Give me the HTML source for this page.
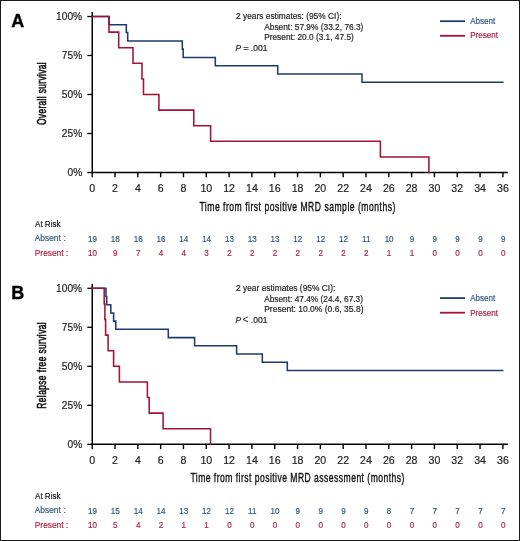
<!DOCTYPE html>
<html><head><meta charset="utf-8"><style>
html,body{margin:0;padding:0;background:#fff;}
body{width:520px;height:541px;overflow:hidden;}
svg{display:block;font-family:"Liberation Sans", sans-serif;will-change:transform;}
.sb{stroke:#33557f;stroke-width:0.18;}
.sr{stroke:#ad2245;stroke-width:0.18;}
.sk{stroke:#222;stroke-width:0.18;}
</style></head><body>
<svg width="520" height="541" viewBox="0 0 520 541">
<rect x="0" y="0" width="520" height="541" fill="#fff"/>
<rect x="0.5" y="0.5" width="519" height="540" fill="none" stroke="#1a1a1a" stroke-width="1"/>
<text x="11.3" y="26.9" font-size="18" font-weight="bold" fill="#000" stroke="#000" stroke-width="0.35">A</text>
<line x1="92.25" y1="12.00" x2="92.25" y2="173.35" stroke="#000" stroke-width="1.5"/>
<line x1="91.45" y1="172.50" x2="507.8" y2="172.50" stroke="#000" stroke-width="1.55"/>
<line x1="87.3" y1="16.50" x2="92.25" y2="16.50" stroke="#000" stroke-width="1.3"/>
<text transform="translate(82.2,20.10) scale(1.02,1)" text-anchor="end" font-size="10.0" fill="#222" class="sk">100%</text>
<line x1="87.3" y1="55.50" x2="92.25" y2="55.50" stroke="#000" stroke-width="1.3"/>
<text transform="translate(82.2,59.10) scale(1.02,1)" text-anchor="end" font-size="10.0" fill="#222" class="sk">75%</text>
<line x1="87.3" y1="94.50" x2="92.25" y2="94.50" stroke="#000" stroke-width="1.3"/>
<text transform="translate(82.2,98.10) scale(1.02,1)" text-anchor="end" font-size="10.0" fill="#222" class="sk">50%</text>
<line x1="87.3" y1="133.50" x2="92.25" y2="133.50" stroke="#000" stroke-width="1.3"/>
<text transform="translate(82.2,137.10) scale(1.02,1)" text-anchor="end" font-size="10.0" fill="#222" class="sk">25%</text>
<line x1="87.3" y1="172.50" x2="92.25" y2="172.50" stroke="#000" stroke-width="1.3"/>
<text transform="translate(82.2,176.10) scale(1.02,1)" text-anchor="end" font-size="10.0" fill="#222" class="sk">0%</text>
<line x1="92.20" y1="172.50" x2="92.20" y2="177.30" stroke="#000" stroke-width="1.4"/>
<text transform="translate(92.20,191.70) scale(1.04,1)" text-anchor="middle" font-size="10.2" fill="#222" class="sk">0</text>
<line x1="115.02" y1="172.50" x2="115.02" y2="177.30" stroke="#000" stroke-width="1.4"/>
<text transform="translate(115.02,191.70) scale(1.04,1)" text-anchor="middle" font-size="10.2" fill="#222" class="sk">2</text>
<line x1="137.83" y1="172.50" x2="137.83" y2="177.30" stroke="#000" stroke-width="1.4"/>
<text transform="translate(137.83,191.70) scale(1.04,1)" text-anchor="middle" font-size="10.2" fill="#222" class="sk">4</text>
<line x1="160.65" y1="172.50" x2="160.65" y2="177.30" stroke="#000" stroke-width="1.4"/>
<text transform="translate(160.65,191.70) scale(1.04,1)" text-anchor="middle" font-size="10.2" fill="#222" class="sk">6</text>
<line x1="183.46" y1="172.50" x2="183.46" y2="177.30" stroke="#000" stroke-width="1.4"/>
<text transform="translate(183.46,191.70) scale(1.04,1)" text-anchor="middle" font-size="10.2" fill="#222" class="sk">8</text>
<line x1="206.28" y1="172.50" x2="206.28" y2="177.30" stroke="#000" stroke-width="1.4"/>
<text transform="translate(206.28,191.70) scale(1.04,1)" text-anchor="middle" font-size="10.2" fill="#222" class="sk">10</text>
<line x1="229.10" y1="172.50" x2="229.10" y2="177.30" stroke="#000" stroke-width="1.4"/>
<text transform="translate(229.10,191.70) scale(1.04,1)" text-anchor="middle" font-size="10.2" fill="#222" class="sk">12</text>
<line x1="251.91" y1="172.50" x2="251.91" y2="177.30" stroke="#000" stroke-width="1.4"/>
<text transform="translate(251.91,191.70) scale(1.04,1)" text-anchor="middle" font-size="10.2" fill="#222" class="sk">14</text>
<line x1="274.73" y1="172.50" x2="274.73" y2="177.30" stroke="#000" stroke-width="1.4"/>
<text transform="translate(274.73,191.70) scale(1.04,1)" text-anchor="middle" font-size="10.2" fill="#222" class="sk">16</text>
<line x1="297.54" y1="172.50" x2="297.54" y2="177.30" stroke="#000" stroke-width="1.4"/>
<text transform="translate(297.54,191.70) scale(1.04,1)" text-anchor="middle" font-size="10.2" fill="#222" class="sk">18</text>
<line x1="320.36" y1="172.50" x2="320.36" y2="177.30" stroke="#000" stroke-width="1.4"/>
<text transform="translate(320.36,191.70) scale(1.04,1)" text-anchor="middle" font-size="10.2" fill="#222" class="sk">20</text>
<line x1="343.18" y1="172.50" x2="343.18" y2="177.30" stroke="#000" stroke-width="1.4"/>
<text transform="translate(343.18,191.70) scale(1.04,1)" text-anchor="middle" font-size="10.2" fill="#222" class="sk">22</text>
<line x1="365.99" y1="172.50" x2="365.99" y2="177.30" stroke="#000" stroke-width="1.4"/>
<text transform="translate(365.99,191.70) scale(1.04,1)" text-anchor="middle" font-size="10.2" fill="#222" class="sk">24</text>
<line x1="388.81" y1="172.50" x2="388.81" y2="177.30" stroke="#000" stroke-width="1.4"/>
<text transform="translate(388.81,191.70) scale(1.04,1)" text-anchor="middle" font-size="10.2" fill="#222" class="sk">26</text>
<line x1="411.62" y1="172.50" x2="411.62" y2="177.30" stroke="#000" stroke-width="1.4"/>
<text transform="translate(411.62,191.70) scale(1.04,1)" text-anchor="middle" font-size="10.2" fill="#222" class="sk">28</text>
<line x1="434.44" y1="172.50" x2="434.44" y2="177.30" stroke="#000" stroke-width="1.4"/>
<text transform="translate(434.44,191.70) scale(1.04,1)" text-anchor="middle" font-size="10.2" fill="#222" class="sk">30</text>
<line x1="457.26" y1="172.50" x2="457.26" y2="177.30" stroke="#000" stroke-width="1.4"/>
<text transform="translate(457.26,191.70) scale(1.04,1)" text-anchor="middle" font-size="10.2" fill="#222" class="sk">32</text>
<line x1="480.07" y1="172.50" x2="480.07" y2="177.30" stroke="#000" stroke-width="1.4"/>
<text transform="translate(480.07,191.70) scale(1.04,1)" text-anchor="middle" font-size="10.2" fill="#222" class="sk">34</text>
<line x1="502.89" y1="172.50" x2="502.89" y2="177.30" stroke="#000" stroke-width="1.4"/>
<text transform="translate(502.89,191.70) scale(1.04,1)" text-anchor="middle" font-size="10.2" fill="#222" class="sk">36</text>
<text transform="translate(297.4,210.60) scale(0.63,1)" text-anchor="middle" font-size="13.6" fill="#111" stroke="#111" stroke-width="0.4" textLength="311.11" lengthAdjust="spacing">Time from first positive MRD sample (months)</text>
<text transform="translate(46,93.70) rotate(-90) scale(0.66,1)" x="0" y="0" text-anchor="middle" font-size="12.7" fill="#111" stroke="#111" stroke-width="0.6" textLength="95.00" lengthAdjust="spacing">Overall survival</text>
<text x="236" y="19.45" font-size="8.4" fill="#222" class="sk" textLength="105.5" lengthAdjust="spacingAndGlyphs">2 years estimates: (95% CI):</text>
<text x="264.2" y="29.60" font-size="8.4" fill="#222" class="sk" textLength="99.2" lengthAdjust="spacingAndGlyphs">Absent: 57.9% (33.2, 76.3)</text>
<text x="264.2" y="39.50" font-size="8.4" fill="#222" class="sk" textLength="89.6" lengthAdjust="spacingAndGlyphs">Present: 20.0 (3.1, 47.5)</text>
<text x="235.6" y="50.80" font-size="8.4" font-style="italic" fill="#222" class="sk">P</text>
<text x="243.40" y="50.80" font-size="8.4" fill="#222" stroke="#222" stroke-width="0.35" textLength="5.2" lengthAdjust="spacingAndGlyphs">=</text>
<text x="250.8" y="50.80" font-size="8.4" fill="#222" class="sk" textLength="16.6" lengthAdjust="spacingAndGlyphs">.001</text>
<line x1="440" y1="21.20" x2="465" y2="21.20" stroke="#1f3a72" stroke-width="1.8"/>
<line x1="440" y1="35.80" x2="465" y2="35.80" stroke="#a51237" stroke-width="1.8"/>
<text transform="translate(470.2,23.80) scale(0.94,1)" font-size="8.6" fill="#33557f" class="sb">Absent</text>
<text transform="translate(470.2,38.40) scale(0.94,1)" font-size="8.6" fill="#ad2245" class="sr">Present</text>
<path d="M92.2 16.5 H109.0 V24.7 H126.3 V32.5 H127.7 V40.9 H182.3 V49.1 H183.2 V57.5 H215.3 V65.7 H277.7 V73.9 H362.0 V82.3 H502.7" fill="none" stroke="#1f3a72" stroke-width="1.55" stroke-linejoin="miter" stroke-linecap="square"/>
<path d="M92.2 16.5 H109.0 V32.1 H118.7 V47.7 H133.0 V63.3 H142.0 V78.9 H143.5 V94.5 H158.9 V110.1 H193.8 V125.7 H210.6 V141.3 H380.4 V156.9 H428.9 V172.5" fill="none" stroke="#a51237" stroke-width="1.55" stroke-linejoin="miter" stroke-linecap="square"/>
<text transform="translate(35,226.80) scale(0.93,1)" font-size="8.7" fill="#111" class="sk">At Risk</text>
<text transform="translate(34.8,241.40) scale(0.96,1)" font-size="8.7" fill="#33557f" class="sb">Absent</text>
<text x="63.5" y="241.40" font-size="8.7" fill="#33557f" class="sb">:</text>
<text transform="translate(34.8,255.70) scale(0.96,1)" font-size="8.7" fill="#ad2245" class="sr">Present</text>
<text x="65.8" y="255.70" font-size="8.7" fill="#ad2245" class="sr">:</text>
<text transform="translate(92.50,241.50) scale(0.93,1)" text-anchor="middle" font-size="8.7" fill="#33557f" class="sb">19</text>
<text transform="translate(92.50,255.70) scale(0.93,1)" text-anchor="middle" font-size="8.7" fill="#ad2245" class="sr">10</text>
<text transform="translate(115.32,241.50) scale(0.93,1)" text-anchor="middle" font-size="8.7" fill="#33557f" class="sb">18</text>
<text transform="translate(115.32,255.70) scale(0.93,1)" text-anchor="middle" font-size="8.7" fill="#ad2245" class="sr">9</text>
<text transform="translate(138.13,241.50) scale(0.93,1)" text-anchor="middle" font-size="8.7" fill="#33557f" class="sb">16</text>
<text transform="translate(138.13,255.70) scale(0.93,1)" text-anchor="middle" font-size="8.7" fill="#ad2245" class="sr">7</text>
<text transform="translate(160.95,241.50) scale(0.93,1)" text-anchor="middle" font-size="8.7" fill="#33557f" class="sb">16</text>
<text transform="translate(160.95,255.70) scale(0.93,1)" text-anchor="middle" font-size="8.7" fill="#ad2245" class="sr">4</text>
<text transform="translate(183.76,241.50) scale(0.93,1)" text-anchor="middle" font-size="8.7" fill="#33557f" class="sb">14</text>
<text transform="translate(183.76,255.70) scale(0.93,1)" text-anchor="middle" font-size="8.7" fill="#ad2245" class="sr">4</text>
<text transform="translate(206.58,241.50) scale(0.93,1)" text-anchor="middle" font-size="8.7" fill="#33557f" class="sb">14</text>
<text transform="translate(206.58,255.70) scale(0.93,1)" text-anchor="middle" font-size="8.7" fill="#ad2245" class="sr">3</text>
<text transform="translate(229.40,241.50) scale(0.93,1)" text-anchor="middle" font-size="8.7" fill="#33557f" class="sb">13</text>
<text transform="translate(229.40,255.70) scale(0.93,1)" text-anchor="middle" font-size="8.7" fill="#ad2245" class="sr">2</text>
<text transform="translate(252.21,241.50) scale(0.93,1)" text-anchor="middle" font-size="8.7" fill="#33557f" class="sb">13</text>
<text transform="translate(252.21,255.70) scale(0.93,1)" text-anchor="middle" font-size="8.7" fill="#ad2245" class="sr">2</text>
<text transform="translate(275.03,241.50) scale(0.93,1)" text-anchor="middle" font-size="8.7" fill="#33557f" class="sb">13</text>
<text transform="translate(275.03,255.70) scale(0.93,1)" text-anchor="middle" font-size="8.7" fill="#ad2245" class="sr">2</text>
<text transform="translate(297.84,241.50) scale(0.93,1)" text-anchor="middle" font-size="8.7" fill="#33557f" class="sb">12</text>
<text transform="translate(297.84,255.70) scale(0.93,1)" text-anchor="middle" font-size="8.7" fill="#ad2245" class="sr">2</text>
<text transform="translate(320.66,241.50) scale(0.93,1)" text-anchor="middle" font-size="8.7" fill="#33557f" class="sb">12</text>
<text transform="translate(320.66,255.70) scale(0.93,1)" text-anchor="middle" font-size="8.7" fill="#ad2245" class="sr">2</text>
<text transform="translate(343.48,241.50) scale(0.93,1)" text-anchor="middle" font-size="8.7" fill="#33557f" class="sb">12</text>
<text transform="translate(343.48,255.70) scale(0.93,1)" text-anchor="middle" font-size="8.7" fill="#ad2245" class="sr">2</text>
<text transform="translate(366.29,241.50) scale(0.93,1)" text-anchor="middle" font-size="8.7" fill="#33557f" class="sb">11</text>
<text transform="translate(366.29,255.70) scale(0.93,1)" text-anchor="middle" font-size="8.7" fill="#ad2245" class="sr">2</text>
<text transform="translate(389.11,241.50) scale(0.93,1)" text-anchor="middle" font-size="8.7" fill="#33557f" class="sb">10</text>
<text transform="translate(389.11,255.70) scale(0.93,1)" text-anchor="middle" font-size="8.7" fill="#ad2245" class="sr">1</text>
<text transform="translate(411.92,241.50) scale(0.93,1)" text-anchor="middle" font-size="8.7" fill="#33557f" class="sb">9</text>
<text transform="translate(411.92,255.70) scale(0.93,1)" text-anchor="middle" font-size="8.7" fill="#ad2245" class="sr">1</text>
<text transform="translate(434.74,241.50) scale(0.93,1)" text-anchor="middle" font-size="8.7" fill="#33557f" class="sb">9</text>
<text transform="translate(434.74,255.70) scale(0.93,1)" text-anchor="middle" font-size="8.7" fill="#ad2245" class="sr">0</text>
<text transform="translate(457.56,241.50) scale(0.93,1)" text-anchor="middle" font-size="8.7" fill="#33557f" class="sb">9</text>
<text transform="translate(457.56,255.70) scale(0.93,1)" text-anchor="middle" font-size="8.7" fill="#ad2245" class="sr">0</text>
<text transform="translate(480.37,241.50) scale(0.93,1)" text-anchor="middle" font-size="8.7" fill="#33557f" class="sb">9</text>
<text transform="translate(480.37,255.70) scale(0.93,1)" text-anchor="middle" font-size="8.7" fill="#ad2245" class="sr">0</text>
<text transform="translate(503.19,241.50) scale(0.93,1)" text-anchor="middle" font-size="8.7" fill="#33557f" class="sb">9</text>
<text transform="translate(503.19,255.70) scale(0.93,1)" text-anchor="middle" font-size="8.7" fill="#ad2245" class="sr">0</text>
<text x="11.3" y="298.7" font-size="18" font-weight="bold" fill="#000" stroke="#000" stroke-width="0.35">B</text>
<line x1="92.25" y1="283.80" x2="92.25" y2="445.15" stroke="#000" stroke-width="1.5"/>
<line x1="91.45" y1="444.30" x2="507.8" y2="444.30" stroke="#000" stroke-width="1.55"/>
<line x1="87.3" y1="288.30" x2="92.25" y2="288.30" stroke="#000" stroke-width="1.3"/>
<text transform="translate(82.2,291.90) scale(1.02,1)" text-anchor="end" font-size="10.0" fill="#222" class="sk">100%</text>
<line x1="87.3" y1="327.30" x2="92.25" y2="327.30" stroke="#000" stroke-width="1.3"/>
<text transform="translate(82.2,330.90) scale(1.02,1)" text-anchor="end" font-size="10.0" fill="#222" class="sk">75%</text>
<line x1="87.3" y1="366.30" x2="92.25" y2="366.30" stroke="#000" stroke-width="1.3"/>
<text transform="translate(82.2,369.90) scale(1.02,1)" text-anchor="end" font-size="10.0" fill="#222" class="sk">50%</text>
<line x1="87.3" y1="405.30" x2="92.25" y2="405.30" stroke="#000" stroke-width="1.3"/>
<text transform="translate(82.2,408.90) scale(1.02,1)" text-anchor="end" font-size="10.0" fill="#222" class="sk">25%</text>
<line x1="87.3" y1="444.30" x2="92.25" y2="444.30" stroke="#000" stroke-width="1.3"/>
<text transform="translate(82.2,447.90) scale(1.02,1)" text-anchor="end" font-size="10.0" fill="#222" class="sk">0%</text>
<line x1="92.20" y1="444.30" x2="92.20" y2="449.10" stroke="#000" stroke-width="1.4"/>
<text transform="translate(92.20,463.50) scale(1.04,1)" text-anchor="middle" font-size="10.2" fill="#222" class="sk">0</text>
<line x1="115.02" y1="444.30" x2="115.02" y2="449.10" stroke="#000" stroke-width="1.4"/>
<text transform="translate(115.02,463.50) scale(1.04,1)" text-anchor="middle" font-size="10.2" fill="#222" class="sk">2</text>
<line x1="137.83" y1="444.30" x2="137.83" y2="449.10" stroke="#000" stroke-width="1.4"/>
<text transform="translate(137.83,463.50) scale(1.04,1)" text-anchor="middle" font-size="10.2" fill="#222" class="sk">4</text>
<line x1="160.65" y1="444.30" x2="160.65" y2="449.10" stroke="#000" stroke-width="1.4"/>
<text transform="translate(160.65,463.50) scale(1.04,1)" text-anchor="middle" font-size="10.2" fill="#222" class="sk">6</text>
<line x1="183.46" y1="444.30" x2="183.46" y2="449.10" stroke="#000" stroke-width="1.4"/>
<text transform="translate(183.46,463.50) scale(1.04,1)" text-anchor="middle" font-size="10.2" fill="#222" class="sk">8</text>
<line x1="206.28" y1="444.30" x2="206.28" y2="449.10" stroke="#000" stroke-width="1.4"/>
<text transform="translate(206.28,463.50) scale(1.04,1)" text-anchor="middle" font-size="10.2" fill="#222" class="sk">10</text>
<line x1="229.10" y1="444.30" x2="229.10" y2="449.10" stroke="#000" stroke-width="1.4"/>
<text transform="translate(229.10,463.50) scale(1.04,1)" text-anchor="middle" font-size="10.2" fill="#222" class="sk">12</text>
<line x1="251.91" y1="444.30" x2="251.91" y2="449.10" stroke="#000" stroke-width="1.4"/>
<text transform="translate(251.91,463.50) scale(1.04,1)" text-anchor="middle" font-size="10.2" fill="#222" class="sk">14</text>
<line x1="274.73" y1="444.30" x2="274.73" y2="449.10" stroke="#000" stroke-width="1.4"/>
<text transform="translate(274.73,463.50) scale(1.04,1)" text-anchor="middle" font-size="10.2" fill="#222" class="sk">16</text>
<line x1="297.54" y1="444.30" x2="297.54" y2="449.10" stroke="#000" stroke-width="1.4"/>
<text transform="translate(297.54,463.50) scale(1.04,1)" text-anchor="middle" font-size="10.2" fill="#222" class="sk">18</text>
<line x1="320.36" y1="444.30" x2="320.36" y2="449.10" stroke="#000" stroke-width="1.4"/>
<text transform="translate(320.36,463.50) scale(1.04,1)" text-anchor="middle" font-size="10.2" fill="#222" class="sk">20</text>
<line x1="343.18" y1="444.30" x2="343.18" y2="449.10" stroke="#000" stroke-width="1.4"/>
<text transform="translate(343.18,463.50) scale(1.04,1)" text-anchor="middle" font-size="10.2" fill="#222" class="sk">22</text>
<line x1="365.99" y1="444.30" x2="365.99" y2="449.10" stroke="#000" stroke-width="1.4"/>
<text transform="translate(365.99,463.50) scale(1.04,1)" text-anchor="middle" font-size="10.2" fill="#222" class="sk">24</text>
<line x1="388.81" y1="444.30" x2="388.81" y2="449.10" stroke="#000" stroke-width="1.4"/>
<text transform="translate(388.81,463.50) scale(1.04,1)" text-anchor="middle" font-size="10.2" fill="#222" class="sk">26</text>
<line x1="411.62" y1="444.30" x2="411.62" y2="449.10" stroke="#000" stroke-width="1.4"/>
<text transform="translate(411.62,463.50) scale(1.04,1)" text-anchor="middle" font-size="10.2" fill="#222" class="sk">28</text>
<line x1="434.44" y1="444.30" x2="434.44" y2="449.10" stroke="#000" stroke-width="1.4"/>
<text transform="translate(434.44,463.50) scale(1.04,1)" text-anchor="middle" font-size="10.2" fill="#222" class="sk">30</text>
<line x1="457.26" y1="444.30" x2="457.26" y2="449.10" stroke="#000" stroke-width="1.4"/>
<text transform="translate(457.26,463.50) scale(1.04,1)" text-anchor="middle" font-size="10.2" fill="#222" class="sk">32</text>
<line x1="480.07" y1="444.30" x2="480.07" y2="449.10" stroke="#000" stroke-width="1.4"/>
<text transform="translate(480.07,463.50) scale(1.04,1)" text-anchor="middle" font-size="10.2" fill="#222" class="sk">34</text>
<line x1="502.89" y1="444.30" x2="502.89" y2="449.10" stroke="#000" stroke-width="1.4"/>
<text transform="translate(502.89,463.50) scale(1.04,1)" text-anchor="middle" font-size="10.2" fill="#222" class="sk">36</text>
<text transform="translate(297.4,482.40) scale(0.63,1)" text-anchor="middle" font-size="13.6" fill="#111" stroke="#111" stroke-width="0.4" textLength="339.68" lengthAdjust="spacing">Time from first positive MRD assessment (months)</text>
<text transform="translate(46,365.50) rotate(-90) scale(0.66,1)" x="0" y="0" text-anchor="middle" font-size="12.7" fill="#111" stroke="#111" stroke-width="0.6" textLength="130.76" lengthAdjust="spacing">Relapse free survival</text>
<text x="236" y="291.20" font-size="8.4" fill="#222" class="sk" textLength="99.3" lengthAdjust="spacingAndGlyphs">2 year estimates (95% CI):</text>
<text x="264.2" y="301.80" font-size="8.4" fill="#222" class="sk" textLength="98.8" lengthAdjust="spacingAndGlyphs">Absent: 47.4% (24.4, 67.3)</text>
<text x="264.2" y="312.00" font-size="8.4" fill="#222" class="sk" textLength="99.3" lengthAdjust="spacingAndGlyphs">Present: 10.0% (0.6, 35.8)</text>
<text x="235.6" y="322.80" font-size="8.4" font-style="italic" fill="#222" class="sk">P</text>
<text x="242.60" y="322.70" font-size="10" fill="#222" stroke="#222" stroke-width="0" textLength="6.0" lengthAdjust="spacingAndGlyphs">&lt;</text>
<text x="250.8" y="322.80" font-size="8.4" fill="#222" class="sk" textLength="16.6" lengthAdjust="spacingAndGlyphs">.001</text>
<line x1="440" y1="298.10" x2="465" y2="298.10" stroke="#1f3a72" stroke-width="1.8"/>
<line x1="440" y1="312.70" x2="465" y2="312.70" stroke="#a51237" stroke-width="1.8"/>
<text transform="translate(470.2,300.95) scale(0.94,1)" font-size="8.6" fill="#33557f" class="sb">Absent</text>
<text transform="translate(470.2,315.55) scale(0.94,1)" font-size="8.6" fill="#ad2245" class="sr">Present</text>
<path d="M92.2 288.3 H106.0 V296.5 H106.7 V304.7 H110.8 V312.9 H113.6 V321.1 H115.8 V329.3 H168.3 V337.6 H194.6 V345.7 H236.6 V354.0 H262.3 V362.3 H287.3 V370.4 H502.7" fill="none" stroke="#1f3a72" stroke-width="1.55" stroke-linejoin="miter" stroke-linecap="square"/>
<path d="M92.2 288.3 H104.2 V303.9 H104.9 V319.5 H105.6 V335.1 H108.1 V350.7 H113.6 V366.3 H119.4 V381.9 H147.4 V397.5 H149.2 V413.1 H163.1 V428.7 H210.5 V444.3" fill="none" stroke="#a51237" stroke-width="1.55" stroke-linejoin="miter" stroke-linecap="square"/>
<text transform="translate(35,498.85) scale(0.93,1)" font-size="8.7" fill="#111" class="sk">At Risk</text>
<text transform="translate(34.8,513.45) scale(0.96,1)" font-size="8.7" fill="#33557f" class="sb">Absent</text>
<text x="63.5" y="513.45" font-size="8.7" fill="#33557f" class="sb">:</text>
<text transform="translate(34.8,527.75) scale(0.96,1)" font-size="8.7" fill="#ad2245" class="sr">Present</text>
<text x="65.8" y="527.75" font-size="8.7" fill="#ad2245" class="sr">:</text>
<text transform="translate(92.50,513.55) scale(0.93,1)" text-anchor="middle" font-size="8.7" fill="#33557f" class="sb">19</text>
<text transform="translate(92.50,527.75) scale(0.93,1)" text-anchor="middle" font-size="8.7" fill="#ad2245" class="sr">10</text>
<text transform="translate(115.32,513.55) scale(0.93,1)" text-anchor="middle" font-size="8.7" fill="#33557f" class="sb">15</text>
<text transform="translate(115.32,527.75) scale(0.93,1)" text-anchor="middle" font-size="8.7" fill="#ad2245" class="sr">5</text>
<text transform="translate(138.13,513.55) scale(0.93,1)" text-anchor="middle" font-size="8.7" fill="#33557f" class="sb">14</text>
<text transform="translate(138.13,527.75) scale(0.93,1)" text-anchor="middle" font-size="8.7" fill="#ad2245" class="sr">4</text>
<text transform="translate(160.95,513.55) scale(0.93,1)" text-anchor="middle" font-size="8.7" fill="#33557f" class="sb">14</text>
<text transform="translate(160.95,527.75) scale(0.93,1)" text-anchor="middle" font-size="8.7" fill="#ad2245" class="sr">2</text>
<text transform="translate(183.76,513.55) scale(0.93,1)" text-anchor="middle" font-size="8.7" fill="#33557f" class="sb">13</text>
<text transform="translate(183.76,527.75) scale(0.93,1)" text-anchor="middle" font-size="8.7" fill="#ad2245" class="sr">1</text>
<text transform="translate(206.58,513.55) scale(0.93,1)" text-anchor="middle" font-size="8.7" fill="#33557f" class="sb">12</text>
<text transform="translate(206.58,527.75) scale(0.93,1)" text-anchor="middle" font-size="8.7" fill="#ad2245" class="sr">1</text>
<text transform="translate(229.40,513.55) scale(0.93,1)" text-anchor="middle" font-size="8.7" fill="#33557f" class="sb">12</text>
<text transform="translate(229.40,527.75) scale(0.93,1)" text-anchor="middle" font-size="8.7" fill="#ad2245" class="sr">0</text>
<text transform="translate(252.21,513.55) scale(0.93,1)" text-anchor="middle" font-size="8.7" fill="#33557f" class="sb">11</text>
<text transform="translate(252.21,527.75) scale(0.93,1)" text-anchor="middle" font-size="8.7" fill="#ad2245" class="sr">0</text>
<text transform="translate(275.03,513.55) scale(0.93,1)" text-anchor="middle" font-size="8.7" fill="#33557f" class="sb">10</text>
<text transform="translate(275.03,527.75) scale(0.93,1)" text-anchor="middle" font-size="8.7" fill="#ad2245" class="sr">0</text>
<text transform="translate(297.84,513.55) scale(0.93,1)" text-anchor="middle" font-size="8.7" fill="#33557f" class="sb">9</text>
<text transform="translate(297.84,527.75) scale(0.93,1)" text-anchor="middle" font-size="8.7" fill="#ad2245" class="sr">0</text>
<text transform="translate(320.66,513.55) scale(0.93,1)" text-anchor="middle" font-size="8.7" fill="#33557f" class="sb">9</text>
<text transform="translate(320.66,527.75) scale(0.93,1)" text-anchor="middle" font-size="8.7" fill="#ad2245" class="sr">0</text>
<text transform="translate(343.48,513.55) scale(0.93,1)" text-anchor="middle" font-size="8.7" fill="#33557f" class="sb">9</text>
<text transform="translate(343.48,527.75) scale(0.93,1)" text-anchor="middle" font-size="8.7" fill="#ad2245" class="sr">0</text>
<text transform="translate(366.29,513.55) scale(0.93,1)" text-anchor="middle" font-size="8.7" fill="#33557f" class="sb">9</text>
<text transform="translate(366.29,527.75) scale(0.93,1)" text-anchor="middle" font-size="8.7" fill="#ad2245" class="sr">0</text>
<text transform="translate(389.11,513.55) scale(0.93,1)" text-anchor="middle" font-size="8.7" fill="#33557f" class="sb">8</text>
<text transform="translate(389.11,527.75) scale(0.93,1)" text-anchor="middle" font-size="8.7" fill="#ad2245" class="sr">0</text>
<text transform="translate(411.92,513.55) scale(0.93,1)" text-anchor="middle" font-size="8.7" fill="#33557f" class="sb">7</text>
<text transform="translate(411.92,527.75) scale(0.93,1)" text-anchor="middle" font-size="8.7" fill="#ad2245" class="sr">0</text>
<text transform="translate(434.74,513.55) scale(0.93,1)" text-anchor="middle" font-size="8.7" fill="#33557f" class="sb">7</text>
<text transform="translate(434.74,527.75) scale(0.93,1)" text-anchor="middle" font-size="8.7" fill="#ad2245" class="sr">0</text>
<text transform="translate(457.56,513.55) scale(0.93,1)" text-anchor="middle" font-size="8.7" fill="#33557f" class="sb">7</text>
<text transform="translate(457.56,527.75) scale(0.93,1)" text-anchor="middle" font-size="8.7" fill="#ad2245" class="sr">0</text>
<text transform="translate(480.37,513.55) scale(0.93,1)" text-anchor="middle" font-size="8.7" fill="#33557f" class="sb">7</text>
<text transform="translate(480.37,527.75) scale(0.93,1)" text-anchor="middle" font-size="8.7" fill="#ad2245" class="sr">0</text>
<text transform="translate(503.19,513.55) scale(0.93,1)" text-anchor="middle" font-size="8.7" fill="#33557f" class="sb">7</text>
<text transform="translate(503.19,527.75) scale(0.93,1)" text-anchor="middle" font-size="8.7" fill="#ad2245" class="sr">0</text>
</svg>
</body></html>
